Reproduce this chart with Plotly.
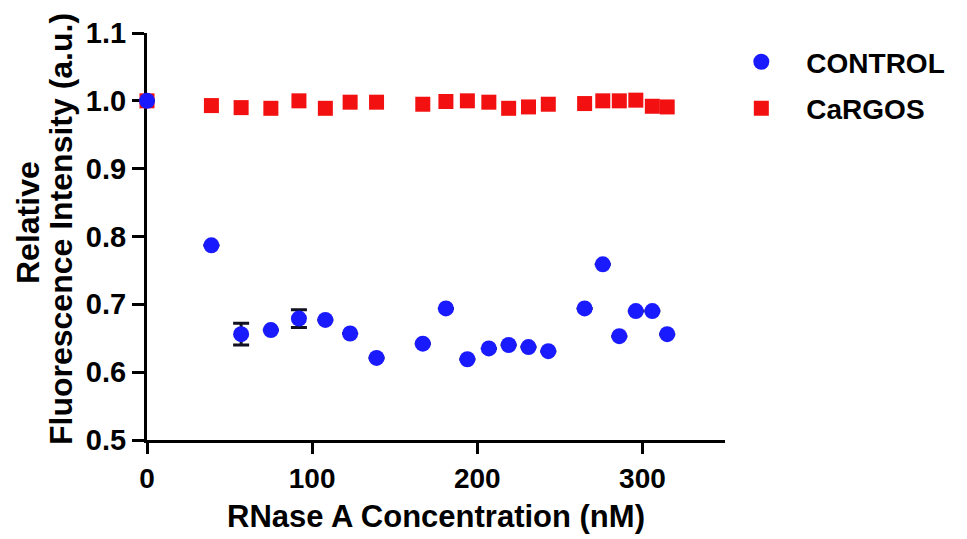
import plotly.graph_objects as go

conc = [0, 39, 57, 75, 92, 108, 123, 139, 167, 181, 194, 207, 219, 231, 243, 265, 276, 286, 296, 306, 315]
control = [1.0, 0.787, 0.656, 0.662, 0.679, 0.677, 0.657, 0.621, 0.642, 0.694, 0.619, 0.635,
           0.640, 0.637, 0.631, 0.694, 0.759, 0.653, 0.690, 0.690, 0.656]
control_err = [None, None, 0.016, None, 0.013, None, None, None, None, None, None, None,
               None, None, None, None, None, None, None, None, None]
cargos = [1.0, 0.993, 0.990, 0.989, 1.0, 0.989, 0.998, 0.998, 0.995, 0.999, 1.0, 0.998,
          0.989, 0.991, 0.995, 0.996, 1.0, 1.0, 1.001, 0.992, 0.991]

x_ticks = [0, 100, 200, 300]
y_ticks = [0.5, 0.6, 0.7, 0.8, 0.9, 1.0, 1.1]
y_tick_text = ["0.5", "0.6", "0.7", "0.8", "0.9", "1.0", "1.1"]

FONT = "Liberation Sans"
L, R, T, B = 147, 242, 33, 99
W, H = 967, 539

fig = go.Figure()
fig.add_trace(go.Scatter(
    x=conc, y=cargos, mode="markers", name="CaRGOS",
    marker=dict(symbol="square", size=15, color="#f21010"),
    cliponaxis=False, legendrank=2, legendgroup="b",
))
fig.add_trace(go.Scatter(
    x=conc, y=control, mode="markers", name="CONTROL",
    marker=dict(symbol="circle", size=16, color="#1a1aff"),
    error_y=dict(type="data", array=control_err, visible=True, color="#111122",
                 thickness=3, width=8),
    cliponaxis=False, legendrank=1, legendgroup="a",
))

fig.update_layout(
    width=W, height=H,
    margin=dict(l=L, r=R, t=T, b=B, pad=0),
    paper_bgcolor="white", plot_bgcolor="white",
    font=dict(family=FONT, color="black", size=28),
    showlegend=True,
    legend=dict(
        x=0.985, y=0.99, xanchor="left", yanchor="top",
        font=dict(family=FONT, size=28, color="black", weight="bold"),
        itemwidth=80, traceorder="grouped", tracegroupgap=7,
        bgcolor="rgba(0,0,0,0)",
    ),
    xaxis=dict(
        range=[0, 350], tickvals=x_ticks, showgrid=False, zeroline=False,
        showline=True, linecolor="black", linewidth=3,
        ticks="outside", ticklen=11, tickwidth=3, tickcolor="black",
        tickfont=dict(family=FONT, size=28, weight="bold"),
        title=dict(text="RNase A Concentration (nM)",
                   font=dict(family=FONT, size=31, weight="bold"), standoff=13),
        layer="below traces",
    ),
    yaxis=dict(
        range=[0.5, 1.1], tickvals=y_ticks, ticktext=y_tick_text, showgrid=False,
        zeroline=False, showline=True, linecolor="black", linewidth=3,
        ticks="outside", ticklen=12, tickwidth=3, tickcolor="black",
        tickfont=dict(family=FONT, size=29, weight="bold"),
        layer="below traces",
    ),
)

pw = W - L - R
ph = H - T - B
def px_to_paper(xp, yp):
    return (xp - L) / pw, (H - B - yp) / ph

ax1, ay1 = px_to_paper(28, 223)
ax2, ay2 = px_to_paper(61, 229)
fig.add_annotation(text="Relative", x=ax1, y=ay1, xref="paper", yref="paper",
                   textangle=-90, showarrow=False, xanchor="center", yanchor="middle",
                   font=dict(family=FONT, size=32, weight="bold", color="black"))
fig.add_annotation(text="Fluorescence Intensity (a.u.)", x=ax2, y=ay2, xref="paper", yref="paper",
                   textangle=-90, showarrow=False, xanchor="center", yanchor="middle",
                   font=dict(family=FONT, size=32, weight="bold", color="black"))

fig.write_html("out.html")
